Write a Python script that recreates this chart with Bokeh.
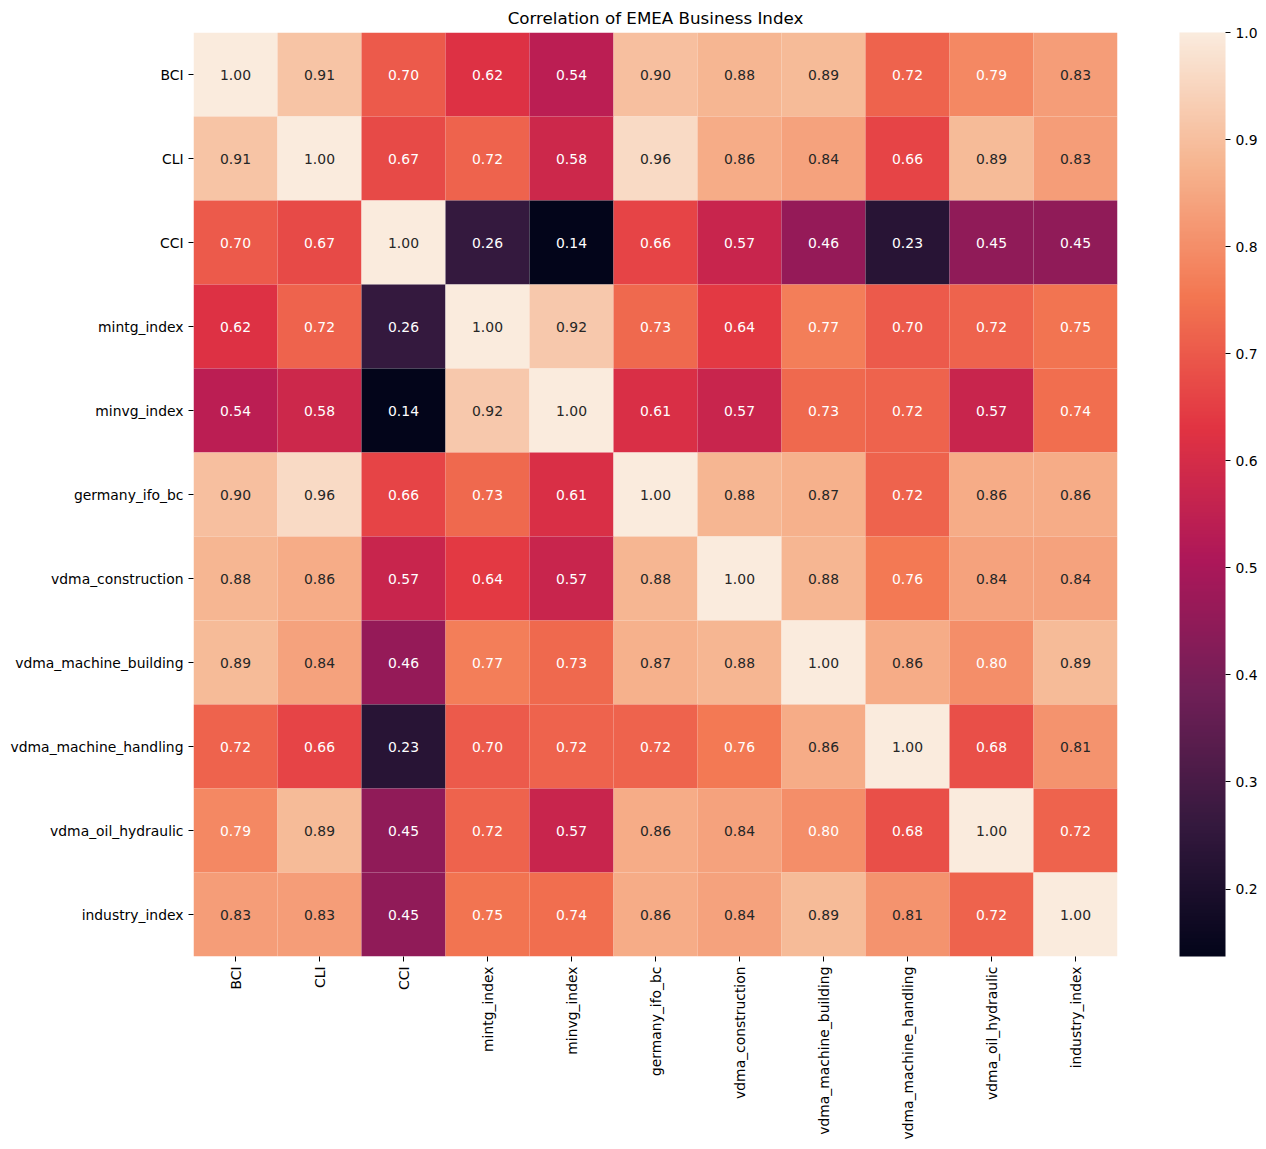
import numpy as np
from bokeh.plotting import figure
from bokeh.models import (ColumnDataSource, LinearColorMapper, ColorBar, FixedTicker,
                          FactorRange, PrintfTickFormatter)
from bokeh.core.properties import value
from bokeh.embed import file_html
from bokeh.resources import INLINE

labels = ["BCI", "CLI", "CCI", "mintg_index", "minvg_index", "germany_ifo_bc",
          "vdma_construction", "vdma_machine_building", "vdma_machine_handling",
          "vdma_oil_hydraulic", "industry_index"]

row_bci = [1.00, 0.91, 0.70, 0.62, 0.54, 0.90, 0.88, 0.89, 0.72, 0.79, 0.83]
row_cli = [0.91, 1.00, 0.67, 0.72, 0.58, 0.96, 0.86, 0.84, 0.66, 0.89, 0.83]
row_cci = [0.70, 0.67, 1.00, 0.26, 0.14, 0.66, 0.57, 0.46, 0.23, 0.45, 0.45]
row_mintg = [0.62, 0.72, 0.26, 1.00, 0.92, 0.73, 0.64, 0.77, 0.70, 0.72, 0.75]
row_minvg = [0.54, 0.58, 0.14, 0.92, 1.00, 0.61, 0.57, 0.73, 0.72, 0.57, 0.74]
row_ifo = [0.90, 0.96, 0.66, 0.73, 0.61, 1.00, 0.88, 0.87, 0.72, 0.86, 0.86]
row_constr = [0.88, 0.86, 0.57, 0.64, 0.57, 0.88, 1.00, 0.88, 0.76, 0.84, 0.84]
row_mbuild = [0.89, 0.84, 0.46, 0.77, 0.73, 0.87, 0.88, 1.00, 0.86, 0.80, 0.89]
row_mhand = [0.72, 0.66, 0.23, 0.70, 0.72, 0.72, 0.76, 0.86, 1.00, 0.68, 0.81]
row_oil = [0.79, 0.89, 0.45, 0.72, 0.57, 0.86, 0.84, 0.80, 0.68, 1.00, 0.72]
row_industry = [0.83, 0.83, 0.45, 0.75, 0.74, 0.86, 0.84, 0.89, 0.81, 0.72, 1.00]

rows = [row_bci, row_cli, row_cci, row_mintg, row_minvg, row_ifo, row_constr,
        row_mbuild, row_mhand, row_oil, row_industry]

colorbar_ticks = [0.2, 0.3, 0.4, 0.5, 0.6, 0.7, 0.8, 0.9, 1.0]
vmin = 0.137
vmax = 1.0

# approximate "rocket" colormap
stop_pos = [0, 1/7, 2/7, 3/7, 4/7, 5/7, 6/7, 1]
stop_hex = ['#03051a', '#35193e', '#701f57', '#ad1759', '#e13342', '#f37651', '#f6b48f', '#faebdd']
stop_rgb = np.array([[int(h[i:i+2], 16) for i in (1, 3, 5)] for h in stop_hex], dtype=float)
tt = np.linspace(0, 1, 256)
pal_rgb = np.stack([np.interp(tt, stop_pos, stop_rgb[:, k]) for k in range(3)], axis=1)
palette = ['#%02x%02x%02x' % tuple(int(round(c)) for c in rgb) for rgb in pal_rgb]


def text_color_for(v):
    idx = int(np.clip(np.floor((v - vmin) / (vmax - vmin) * 256), 0, 255))
    rgb = pal_rgb[idx] / 255.0
    rgb = np.where(rgb <= .03928, rgb / 12.92, ((rgb + .055) / 1.055) ** 2.4)
    lum = rgb.dot([.2126, .7152, .0722])
    return '#262626' if lum > .408 else '#ffffff'


xs, ys, vals, txt, tcol = [], [], [], [], []
for r, row in enumerate(rows):
    for c, v in enumerate(row):
        xs.append(labels[c])
        ys.append(labels[r])
        vals.append(v)
        txt.append("%.2f" % v)
        tcol.append(text_color_for(v))

src = ColumnDataSource(dict(x=xs, y=ys, v=vals, t=txt, tc=tcol))

mapper = LinearColorMapper(palette=palette, low=vmin, high=vmax)

p = figure(x_range=FactorRange(*labels), y_range=FactorRange(*reversed(labels)),
           frame_width=924, frame_height=924,
           min_border_left=193, min_border_right=149, min_border_top=32, min_border_bottom=193,
           output_backend="svg", toolbar_location=None,
           title="Correlation of EMEA Business Index")

p.rect(x='x', y='y', width=1, height=1, source=src,
       fill_color={'field': 'v', 'transform': mapper}, line_color=None)
p.text(x='x', y='y', text='t', source=src, text_color='tc',
       text_align='center', text_baseline='middle',
       text_font=value("DejaVu Sans"), text_font_size='13.9px')

p.title.align = 'center'
p.title.text_font = 'DejaVu Sans'
p.title.text_font_size = '16.7px'
p.title.text_font_style = 'normal'
p.title.text_color = 'black'

for ax in (p.xaxis, p.yaxis):
    ax.axis_line_color = None
    ax.major_tick_in = 0
    ax.major_tick_out = 5
    ax.major_tick_line_color = 'black'
    ax.minor_tick_line_color = None
    ax.major_label_text_font = 'DejaVu Sans'
    ax.major_label_text_font_size = '13.9px'
    ax.major_label_text_color = 'black'
    ax.major_label_standoff = 5
p.xaxis.major_label_orientation = np.pi / 2

p.xgrid.grid_line_color = None
p.ygrid.grid_line_color = None
p.outline_line_color = None
p.background_fill_color = 'white'
p.border_fill_color = 'white'

cb = ColorBar(color_mapper=mapper, ticker=FixedTicker(ticks=colorbar_ticks),
              formatter=PrintfTickFormatter(format='%.1f'),
              width=46, height=924, margin=0, padding=0,
              location=(986, 0),
              major_tick_in=0, major_tick_out=5, major_tick_line_color='black',
              minor_tick_line_color=None, bar_line_color=None, border_line_color=None,
              major_label_text_font='DejaVu Sans', major_label_text_font_size='13.9px',
              major_label_text_color='black', label_standoff=5,
              background_fill_color=None)
p.add_layout(cb, 'center')

open("out.html", "w").write(file_html(p, INLINE))
